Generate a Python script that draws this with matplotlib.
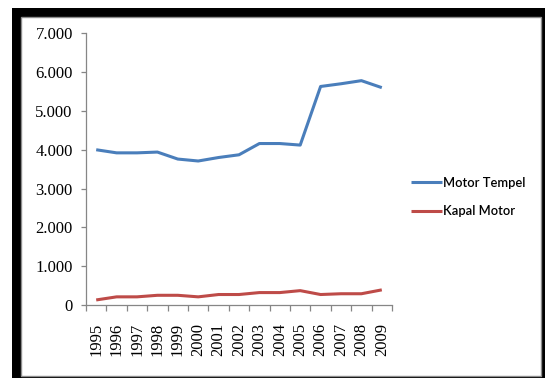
import matplotlib.pyplot as plt
import matplotlib.ticker as mticker
from matplotlib.patches import Rectangle
import numpy as np

years = ["1995", "1996", "1997", "1998", "1999", "2000", "2001", "2002",
         "2003", "2004", "2005", "2006", "2007", "2008", "2009"]
motor_tempel = [4000, 3920, 3920, 3940, 3760, 3710, 3800, 3870,
                4160, 4160, 4120, 5630, 5700, 5780, 5600]
kapal_motor = [130, 210, 210, 250, 250, 210, 270, 270,
               320, 320, 370, 270, 290, 290, 390]

plt.rcParams['font.family'] = 'serif'
plt.rcParams['font.serif'] = ['Liberation Serif', 'DejaVu Serif']

W, H = 545, 378
fig = plt.figure(figsize=(W / 100, H / 100), dpi=100)

# black frame with the white chart area inside
fig.patches.append(Rectangle((12 / W, 0), (W - 12) / W, (H - 8) / H, transform=fig.transFigure,
                             facecolor='black', edgecolor='none', zorder=-10))
fig.patches.append(Rectangle((21 / W, 2 / H), (541 - 21) / W, (376 - 17) / H, transform=fig.transFigure,
                             facecolor='white', edgecolor='#8c8c8c', lw=1, zorder=-9))

ax = fig.add_axes([86 / W, (H - 305) / H, (392 - 86) / W, (305 - 33.3) / H])
ax.patch.set_alpha(0)

x = np.arange(len(years))
ax.plot(x, motor_tempel, color='#4A7EBB', lw=2.2, label='Motor Tempel', solid_capstyle='butt')
ax.plot(x, kapal_motor, color='#BE4B48', lw=2.2, label='Kapal Motor', solid_capstyle='butt')

ax.set_xlim(-0.5, len(years) - 0.5)
ax.set_ylim(0, 7000)

for s in ['top', 'right']:
    ax.spines[s].set_visible(False)
for s in ['left', 'bottom']:
    ax.spines[s].set_color('#868686')
    ax.spines[s].set_linewidth(0.9)

ax.yaxis.set_major_locator(mticker.MultipleLocator(1000))
ax.yaxis.set_major_formatter(mticker.FuncFormatter(lambda v, p: f"{int(v):,}".replace(",", ".")))
ax.tick_params(axis='y', direction='out', length=3.5, width=0.9, color='#868686', pad=6,
               labelsize=12)

# ticks between categories, labels centred on categories
ax.set_xticks(np.arange(-0.5, len(years), 1.0))
ax.set_xticklabels([])
ax.set_xticks(x, minor=True)
ax.set_xticklabels(years, minor=True, rotation=90)
ax.tick_params(axis='x', which='major', direction='out', length=4, width=0.9, color='#868686')
ax.tick_params(axis='x', which='minor', length=0, pad=13, labelsize=12)

leg = fig.legend(loc='center left', bbox_to_anchor=(399 / W, 1 - 197 / H), frameon=False,
                 handlelength=2.4, handletextpad=0.1, labelspacing=1.25,
                 prop={'family': 'Lato', 'size': 9.3, 'weight': 'semibold'})

fig.savefig('out.png', dpi=100)
